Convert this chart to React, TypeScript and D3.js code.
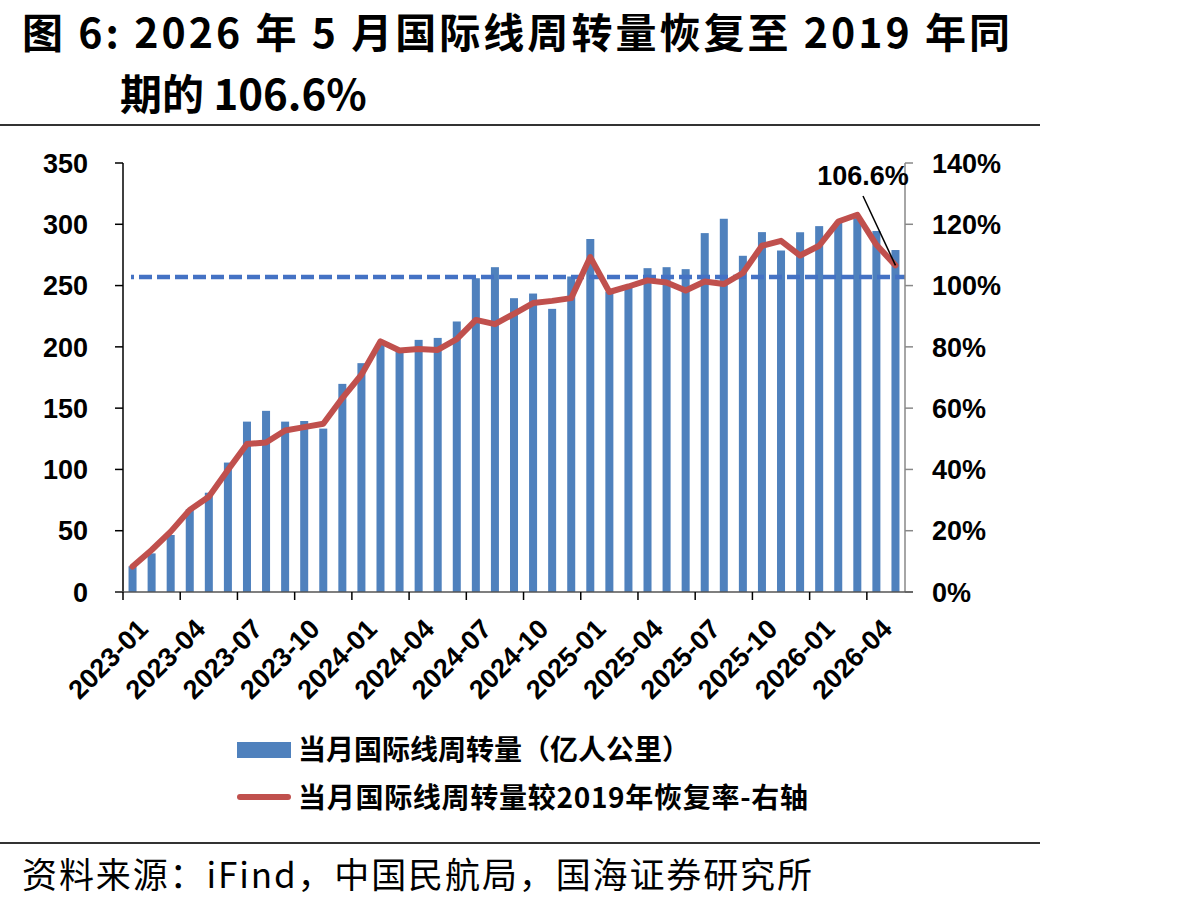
import React from "react";
import * as d3 from "d3";

// Monthly categories 2023-01 .. 2026-05
const months: string[] = [
  "2023-01", "2023-02", "2023-03", "2023-04", "2023-05", "2023-06", "2023-07", "2023-08", "2023-09", "2023-10", "2023-11", "2023-12",
  "2024-01", "2024-02", "2024-03", "2024-04", "2024-05", "2024-06", "2024-07", "2024-08", "2024-09", "2024-10", "2024-11", "2024-12",
  "2025-01", "2025-02", "2025-03", "2025-04", "2025-05", "2025-06", "2025-07", "2025-08", "2025-09", "2025-10", "2025-11", "2025-12",
  "2026-01", "2026-02", "2026-03", "2026-04", "2026-05",
];

// 当月国际线周转量（亿人公里）
const rpk: number[] = [
  21, 31.5, 46.5, 67.5, 81, 105.6, 139, 147.8, 139, 139.5, 133.3, 169.8,
  186.7, 201.6, 196.5, 205.7, 207.3, 220.7, 256, 265, 239.7, 243.5, 231, 257.4,
  288, 245, 250, 264.2, 265, 263.4, 292.8, 304.5, 274.3, 293.6, 278.6, 293.5,
  298.5, 302, 305, 294.5, 279,
];

// 较2019年恢复率（%）
const recovery: number[] = [
  8.3, 13.7, 19.7, 26.8, 31.1, 39.8, 48.3, 48.8, 52.7, 53.8, 54.9, 63.3,
  70.9, 81.8, 78.8, 79.3, 79.0, 82.5, 88.8, 87.4, 90.8, 94.3, 95.0, 95.9,
  109.3, 97.9, 99.7, 101.7, 101.0, 98.4, 101.3, 100.5, 104.1, 113.0, 114.6, 109.8,
  113.0, 120.9, 123.1, 113.3, 106.6,
];

// 2019 level reference line (left axis units)
const baseline2019 = 257;

const leftTicks: number[] = [0, 50, 100, 150, 200, 250, 300, 350];
const rightTicks: number[] = [0, 20, 40, 60, 80, 100, 120, 140];
const tickMonths: string[] = [
  "2023-01", "2023-04", "2023-07", "2023-10", "2024-01", "2024-04", "2024-07",
  "2024-10", "2025-01", "2025-04", "2025-07", "2025-10", "2026-01", "2026-04",
];

const titleLine1 = "图 6:  2026 年 5 月国际线周转量恢复至 2019 年同";
const titleLine2 = "期的 106.6%";
const legendBar = "当月国际线周转量（亿人公里）";
const legendLine = "当月国际线周转量较2019年恢复率-右轴";
const sourceText = "资料来源：iFind，中国民航局，国海证券研究所";

const BLUE = "#4F81BD";
const RED = "#C0504D";
const DASH = "#4472C4";
const LATIN = "'Liberation Sans', Arial, 'Noto Sans CJK SC', sans-serif";
const CJK = "'Noto Sans CJK SC', 'Liberation Sans', sans-serif";

export default function App() {
  const W = 1191;
  const H = 909;
  const left = 123;
  const right = 905;
  const top = 163;
  const bottom = 592;

  const x = d3
    .scaleBand<string>()
    .domain(months)
    .range([left, right])
    .paddingInner(0.58)
    .paddingOuter(0.29);
  const step = x.step();
  const yL = d3.scaleLinear().domain([0, 350]).range([bottom, top]);
  const yR = d3.scaleLinear().domain([0, 140]).range([bottom, top]);

  const cx = (m: string) => (x(m) ?? 0) + x.bandwidth() / 2;
  const line = d3
    .line<number>()
    .x((_, i) => cx(months[i]))
    .y((d) => yR(d));

  const lastIdx = months.length - 1;
  const lastX = cx(months[lastIdx]);
  const lastY = yR(recovery[lastIdx]);

  return (
    <svg
      width={W}
      height={H}
      viewBox={`0 0 ${W} ${H}`}
      style={{ position: "absolute", left: 0, top: 0, display: "block", background: "#fff" }}
    >
      <rect x={0} y={0} width={W} height={H} fill="#fff" />

      {/* Title */}
      <text x={22} y={48} fontFamily={CJK} fontWeight={700} fontSize={41} fill="#000" textLength={988} lengthAdjust="spacing">
        {titleLine1}
      </text>
      <text x={120} y={110} fontFamily={CJK} fontWeight={700} fontSize={42} fill="#000">
        {titleLine2}
      </text>
      <line x1={0} x2={1040} y1={125} y2={125} stroke="#333" strokeWidth={2} />

      {/* Bars */}
      {months.map((m, i) => (
        <rect key={m} x={x(m)} y={yL(rpk[i])} width={x.bandwidth()} height={bottom - yL(rpk[i])} fill={BLUE} />
      ))}

      {/* 2019 reference */}
      <line
        x1={131}
        x2={right}
        y1={yL(baseline2019)}
        y2={yL(baseline2019)}
        stroke={DASH}
        strokeWidth={4.5}
        strokeDasharray="13 5"
        strokeDashoffset={10}
      />

      {/* Recovery line */}
      <path d={line(recovery) ?? ""} fill="none" stroke={RED} strokeWidth={6} strokeLinejoin="round" strokeLinecap="round" />

      {/* Left axis */}
      <line x1={left} x2={left} y1={top} y2={bottom} stroke="#000" strokeWidth={1.5} />
      {leftTicks.map((t) => (
        <g key={t}>
          <line x1={left - 8} x2={left} y1={yL(t)} y2={yL(t)} stroke="#000" strokeWidth={1.5} />
          <text x={88} y={yL(t)} dy="0.36em" textAnchor="end" fontFamily={LATIN} fontWeight={700} fontSize={27}>
            {t}
          </text>
        </g>
      ))}

      {/* Right axis */}
      <line x1={right} x2={right} y1={top} y2={bottom} stroke="#888" strokeWidth={1.5} />
      {rightTicks.map((t) => (
        <g key={t}>
          <line x1={right} x2={right + 8} y1={yR(t)} y2={yR(t)} stroke="#888" strokeWidth={1.5} />
          <text x={932} y={yR(t)} dy="0.36em" textAnchor="start" fontFamily={LATIN} fontWeight={700} fontSize={27}>
            {`${t}%`}
          </text>
        </g>
      ))}

      {/* Bottom axis */}
      <line x1={left - 8} x2={right + 8} y1={bottom} y2={bottom} stroke="#555" strokeWidth={1.5} />
      {tickMonths.map((m) => {
        const tx = (x(m) ?? 0) - step * 0.29;
        return (
          <g key={m}>
            <line x1={tx} x2={tx} y1={bottom} y2={bottom + 8} stroke="#000" strokeWidth={1.5} />
            <text
              transform={`translate(${tx + 20},${bottom + 32}) rotate(-45)`}
              dy="0.35em"
              textAnchor="end"
              fontFamily={LATIN}
              fontWeight={700}
              fontSize={27}
            >
              {m}
            </text>
          </g>
        );
      })}

      {/* Annotation */}
      <line x1={863} y1={196} x2={lastX} y2={lastY} stroke="#000" strokeWidth={1.5} />
      <text x={863} y={185} textAnchor="middle" fontFamily={LATIN} fontWeight={700} fontSize={27}>
        {`${recovery[lastIdx]}%`}
      </text>

      {/* Legend */}
      <rect x={237} y={742} width={54} height={16} fill={BLUE} />
      <text x={298} y={760} fontFamily={CJK} fontWeight={700} fontSize={28}>
        {legendBar}
      </text>
      <line x1={240} x2={288} y1={797} y2={797} stroke={RED} strokeWidth={6} strokeLinecap="round" />
      <text x={298} y={808} fontFamily={CJK} fontWeight={700} fontSize={28} textLength={510} lengthAdjust="spacing">
        {legendLine}
      </text>

      {/* Source */}
      <line x1={0} x2={1040} y1={843} y2={843} stroke="#333" strokeWidth={2} />
      <text x={22} y={888} fontFamily={CJK} fontWeight={400} fontSize={35} textLength={790} lengthAdjust="spacing">
        {sourceText}
      </text>
    </svg>
  );
}
